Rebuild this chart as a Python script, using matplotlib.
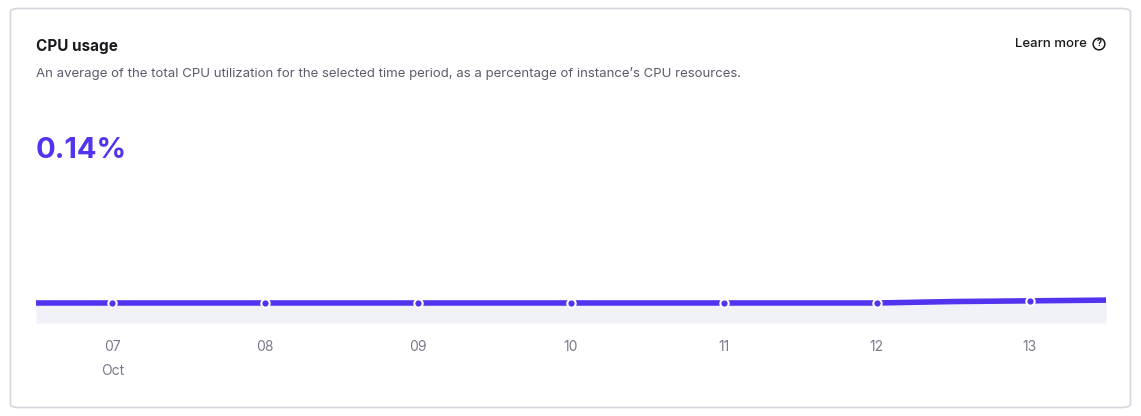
import matplotlib.pyplot as plt
from matplotlib.patches import FancyBboxPatch

# data
days = [6.5, 7, 8, 9, 10, 11, 12, 12.5, 13, 13.5]
cpu = [0.14, 0.14, 0.14, 0.14, 0.14, 0.14, 0.14, 0.15, 0.155, 0.16]
tick_days = [7, 8, 9, 10, 11, 12, 13]
tick_labels = ["07\nOct", "08", "09", "10", "11", "12", "13"]

W, H = 1141, 416
fig = plt.figure(figsize=(W / 100, H / 100), dpi=100)
fig.patch.set_facecolor("white")

card = FancyBboxPatch((10.5 / W, 8.5 / H), 1120 / W, 399 / H,
                      boxstyle="round,pad=0,rounding_size=0.008",
                      transform=fig.transFigure, facecolor="white",
                      edgecolor="#d6d6de", linewidth=1.2, zorder=-5)
fig.patches.append(card)

fig.text(36 / W, 1 - 46 / H, "CPU usage", fontsize=11, fontweight="bold",
         color="#1b1b1f", va="center", family="Inter")
fig.text(36 / W, 1 - 74 / H,
         "An average of the total CPU utilization for the selected time period, as a percentage of instance\u2019s CPU resources.",
         fontsize=9.5, color="#5b5b6b", va="center", family="Inter")
fig.text(1087 / W, 1 - 44 / H, "Learn more", fontsize=9.5, fontweight="medium",
         color="#1b1b1f", va="center", ha="right", family="Inter")
fig.text(1099 / W, 1 - 44 / H, "?", fontsize=6.5, fontweight="bold", color="#1b1b1f",
         va="center", ha="center", family="Inter",
         bbox=dict(boxstyle="circle,pad=0.15", fc="white", ec="#1b1b1f", lw=1.1))
fig.text(36 / W, 1 - 151 / H, "0.14%", fontsize=21, fontweight="bold",
         color="#5333ed", va="center", family="Inter")

ax = fig.add_axes([36 / W, 1 - 323 / H, 1070 / W, 143 / H], zorder=2)
ax.set_xlim(6.5, 13.5)
ax.set_ylim(0, 1)
ax.fill_between(days, cpu, 0, color="#f1f1f8", linewidth=0)
ax.plot(days, cpu, color="#5333ed", linewidth=4, solid_capstyle="butt")
ax.plot(tick_days, [cpu[days.index(d)] for d in tick_days], "o", markersize=6,
        markerfacecolor="#5333ed", markeredgecolor="white", markeredgewidth=1.5)
ax.set_xticks(tick_days)
ax.set_xticklabels(tick_labels, fontsize=10, color="#7a7a8c", family="Inter",
                   linespacing=1.9, va="top")
ax.tick_params(axis="x", length=0, pad=12)
ax.set_yticks([])
for s in ax.spines.values():
    s.set_visible(False)
ax.patch.set_alpha(0)

fig.savefig("out.png", dpi=100)
